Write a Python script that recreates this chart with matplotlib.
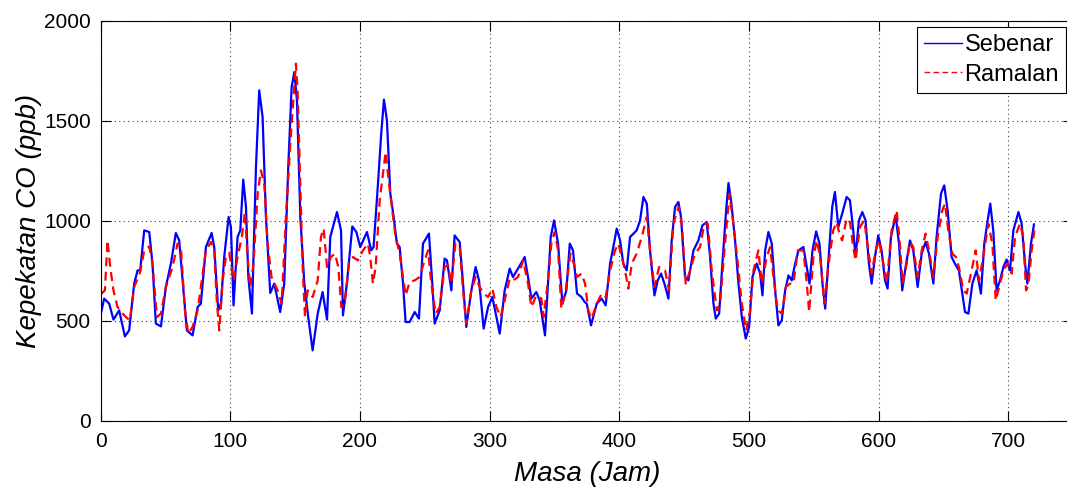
import matplotlib
matplotlib.use("Agg")
import matplotlib.pyplot as plt

plt.rcParams["font.family"] = ["Liberation Sans", "DejaVu Sans"]

# Sebenar (actual) readings: hour, CO ppb
sebenar_jam = [
    0.3, 2.8, 6.7, 10.0, 14.4, 18.8, 22.1, 26.0, 28.6, 30.6, 33.7, 37.6, 40.1, 42.7, 46.6,
    50.4, 54.3, 58.1, 60.7, 63.3, 66.6, 71.0, 74.9, 77.4, 81.3, 85.7, 87.7, 90.8, 92.9,
    95.4, 98.8, 100.6, 102.6, 105.7, 107.8, 110.1, 112.2, 114.0, 116.8, 119.9, 122.4,
    125.0, 127.6, 130.9, 134.0, 138.6, 141.7, 144.8, 147.4, 149.5, 151.5, 154.1, 157.2,
    160.2, 163.6, 167.5, 171.3, 174.7, 177.2, 182.4, 185.5, 187.0, 190.0, 194.2, 197.3,
    200.3, 205.5, 208.8, 210.6, 214.0, 216.5, 218.6, 220.9, 223.5, 226.1, 228.6, 230.7,
    233.3, 235.3, 238.4, 242.3, 245.6, 248.7, 253.3, 255.9, 257.7, 261.6, 265.4, 267.2,
    270.6, 273.1, 277.0, 279.6, 282.1, 286.0, 289.3, 291.9, 295.5, 298.9, 302.2, 305.3,
    307.9, 311.7, 315.6, 318.1, 322.0, 327.1, 329.7, 332.3, 336.1, 338.7, 341.8, 342.8,
    345.1, 347.2, 349.8, 352.9, 356.2, 359.3, 361.9, 364.4, 367.5, 370.9, 373.4, 375.0,
    378.3, 382.7, 386.5, 389.6, 393.0, 395.5, 398.1, 400.7, 403.2, 405.8, 408.4, 411.0,
    413.5, 416.1, 418.7, 421.3, 423.8, 427.2, 429.7, 432.3, 434.9, 438.0, 440.5, 443.1,
    445.7, 447.7, 450.8, 453.4, 457.3, 461.1, 464.2, 467.5, 470.1, 472.7, 474.5, 477.1,
    479.6, 482.5, 484.3, 486.3, 489.4, 492.0, 494.6, 497.6, 500.2, 502.8, 506.1, 508.7,
    510.5, 512.6, 515.1, 517.7, 520.3, 522.8, 525.4, 528.0, 530.6, 533.1, 535.7, 538.3,
    542.1, 544.7, 546.8, 549.1, 551.9, 554.5, 556.8, 558.9, 561.2, 564.3, 566.4, 569.0,
    572.0, 575.4, 578.0, 580.5, 582.3, 584.9, 587.5, 590.0, 592.6, 594.7, 597.3, 599.8,
    602.4, 605.0, 607.0, 609.6, 613.2, 615.8, 618.3, 620.9, 624.3, 626.8, 630.2, 633.3,
    636.3, 638.9, 642.3, 644.8, 648.2, 650.7, 653.3, 656.4, 658.9, 662.0, 664.6, 666.7,
    669.3, 672.4, 675.7, 679.0, 681.6, 684.2, 686.2, 688.5, 691.1, 693.7, 696.3, 698.8,
    701.4, 704.0, 707.9, 710.4, 713.0, 714.8, 717.6, 719.9,
]
sebenar_ppb = [
    537, 612, 587, 507, 553, 423, 453, 687, 753, 753, 953, 945, 787, 487, 473,
    670, 787, 940, 903, 703, 453, 428, 570, 587, 870, 940, 870, 553, 587,
    820, 1020, 970, 578, 920, 953, 1207, 1070, 720, 537, 1270, 1653,
    1520, 1020, 640, 687, 545, 687, 1270, 1670, 1745, 1603, 1020, 687,
    520, 353, 537, 645, 507, 920, 1045, 953, 528, 687, 973, 945,
    870, 945, 853, 870, 1187, 1437, 1607, 1503, 1137, 1020, 887, 870,
    687, 495, 495, 545, 512, 887, 937, 687, 487, 553, 812, 803,
    653, 928, 895, 687, 470, 653, 770, 703, 462, 570, 620, 520,
    437, 653, 762, 720, 762, 820, 720, 612, 645, 603, 470, 428,
    687, 920, 1003, 887, 587, 653, 887, 853, 637, 620, 595, 587,
    478, 587, 612, 578, 787, 870, 962, 903, 787, 753, 920, 937,
    953, 1003, 1120, 1087, 853, 628, 703, 737, 687, 612, 903, 1070,
    1095, 1020, 720, 703, 853, 903, 978, 995, 820, 587, 512, 537,
    787, 1053, 1190, 1103, 903, 687, 520, 412, 470, 720, 787, 737,
    628, 853, 945, 887, 653, 478, 503, 653, 728, 703, 787, 853,
    870, 770, 687, 853, 948, 887, 687, 562, 787, 1070, 1145, 970,
    1037, 1120, 1103, 953, 820, 1003, 1045, 1003, 787, 687, 820, 928,
    853, 703, 662, 920, 1028, 887, 653, 770, 903, 853, 670, 837,
    895, 837, 687, 920, 1137, 1178, 1053, 820, 787, 753, 637, 545,
    537, 687, 753, 637, 887, 1003, 1087, 953, 653, 703, 770, 807,
    753, 953, 1045, 987, 787, 687, 887, 983,
]

# Ramalan (forecast) readings: hour, CO ppb
ramalan_jam = [
    0.8, 3.4, 5.4, 7.5, 10.0, 13.1, 18.3, 22.6, 26.0, 30.6, 33.7, 37.6, 40.1, 43.5, 46.6,
    50.4, 55.6, 59.4, 62.0, 65.1, 67.7, 71.0, 74.9, 81.3, 85.2, 87.7, 89.8, 91.6, 94.2,
    96.7, 99.3, 102.6, 105.7, 109.0, 111.4, 113.4, 115.5, 118.0, 121.2, 123.7, 126.3,
    128.9, 131.9, 136.6, 139.7, 143.0, 146.9, 150.7, 152.0, 154.1, 155.9, 157.7, 159.7,
    163.6, 167.5, 170.0, 172.1, 174.7, 177.7, 180.8, 183.4, 185.7, 188.3, 191.6, 194.7,
    198.5, 202.4, 206.3, 208.0, 210.1, 212.2, 215.3, 219.9, 222.5, 225.0, 227.6, 230.7,
    233.3, 235.3, 238.4, 242.3, 246.1, 249.2, 252.6, 255.1, 258.5, 261.6, 265.4, 268.0,
    270.6, 273.7, 277.0, 279.6, 282.1, 286.0, 289.3, 292.4, 295.5, 298.9, 302.2, 305.3,
    308.6, 311.7, 315.6, 318.1, 322.0, 325.9, 329.7, 332.3, 336.1, 340.0, 341.8, 345.1,
    347.7, 350.3, 352.9, 355.4, 358.8, 362.4, 365.0, 367.5, 370.9, 373.7, 376.2, 378.8,
    382.7, 386.5, 389.6, 393.0, 396.8, 399.4, 402.0, 404.5, 407.1, 409.7, 413.5, 417.4,
    421.3, 423.8, 427.2, 430.8, 435.4, 438.5, 441.8, 445.7, 448.3, 451.3, 454.7, 458.5,
    462.4, 465.7, 468.3, 471.4, 475.3, 477.8, 481.2, 485.0, 488.1, 491.5, 494.6, 497.9,
    501.0, 503.6, 507.4, 510.0, 513.8, 516.4, 519.0, 522.3, 525.4, 528.5, 531.8, 534.4,
    537.8, 542.1, 544.7, 546.5, 549.8, 552.4, 555.0, 558.2, 561.2, 565.1, 567.7, 570.2,
    572.0, 575.4, 578.0, 580.5, 582.3, 585.7, 589.0, 592.1, 594.7, 597.8, 600.3, 602.9,
    606.3, 610.1, 614.0, 616.5, 618.6, 621.7, 624.3, 626.8, 630.2, 633.3, 636.3, 638.9,
    642.3, 645.6, 649.2, 651.3, 653.8, 656.9, 659.7, 662.0, 665.4, 668.0, 671.3, 674.9,
    677.5, 680.8, 684.7, 687.8, 690.4, 692.4, 696.3, 699.6, 702.7, 705.3, 709.1, 711.7,
    713.8, 715.6, 718.1, 720.2,
]
ramalan_ppb = [
    637, 653, 903, 770, 653, 570, 528, 503, 670, 745, 853, 873, 787, 520, 537,
    670, 770, 887, 870, 553, 437, 470, 553, 853, 895, 853, 587, 453, 703,
    820, 840, 703, 820, 920, 1045, 820, 670, 787, 1137, 1253, 1187,
    887, 720, 653, 587, 1020, 1437, 1787, 1653, 1187, 770, 520, 653,
    620, 703, 920, 962, 770, 820, 837, 770, 570, 587, 787, 820,
    803, 853, 887, 820, 687, 770, 1103, 1345, 1187, 1053, 920, 837,
    720, 628, 695, 703, 720, 787, 853, 687, 537, 570, 770, 778,
    687, 887, 870, 653, 487, 653, 720, 670, 637, 620, 662, 570,
    520, 603, 712, 703, 720, 803, 687, 570, 628, 612, 520, 703,
    887, 945, 853, 562, 653, 837, 787, 720, 737, 687, 553, 512,
    587, 637, 620, 753, 853, 887, 820, 753, 662, 787, 837, 920,
    1020, 853, 670, 770, 753, 653, 987, 1070, 987, 687, 753, 837,
    870, 987, 987, 753, 553, 587, 853, 1137, 987, 787, 587, 453,
    553, 753, 853, 687, 820, 870, 720, 553, 537, 670, 687, 687,
    853, 853, 687, 545, 820, 903, 820, 587, 770, 953, 995, 928,
    903, 1012, 995, 870, 803, 970, 1003, 853, 737, 853, 903, 820,
    687, 953, 1053, 887, 687, 787, 895, 870, 720, 853, 937, 853,
    720, 920, 1053, 1087, 953, 837, 820, 770, 653, 637, 737, 853,
    703, 820, 987, 887, 603, 653, 753, 787, 737, 920, 987, 920,
    653, 678, 853, 953,
]

x_ticks = [0, 100, 200, 300, 400, 500, 600, 700]
y_ticks = [0, 500, 1000, 1500, 2000]

fig = plt.figure(figsize=(10.67, 4.93), dpi=100)
ax = fig.add_axes([100.5 / 1067, 72 / 493, 972.5 / 1067, 400 / 493])

ax.plot(sebenar_jam, sebenar_ppb, "-", color="#0000ff", linewidth=1.6, label="Sebenar")
ax.plot(ramalan_jam, ramalan_ppb, "--", color="#ff0000", linewidth=1.6,
        dashes=(4, 2.5), label="Ramalan")

ax.set_xlim(0, 750)
ax.set_ylim(0, 2000)
ax.set_xticks(x_ticks)
ax.set_yticks(y_ticks)
ax.tick_params(direction="in", length=7, width=0.8, top=True, right=True,
               labelsize=15, colors="black")
ax.tick_params(axis="y", pad=7)
ax.tick_params(axis="x", pad=8)
ax.grid(True, linestyle=(0, (1, 3)), color="#444444", linewidth=0.8)
for s in ax.spines.values():
    s.set_linewidth(0.8)

ax.set_xlabel("Masa (Jam)", fontsize=20, style="italic")
ax.set_ylabel("Kepekatan CO (ppb)", fontsize=20, style="italic")
ax.xaxis.set_label_coords(0.5, -0.1)
ax.yaxis.set_label_coords(-0.06, 0.5)

leg = ax.legend(loc="upper right", bbox_to_anchor=(1066 / 1067, 1 - 27 / 493),
                bbox_transform=fig.transFigure, borderaxespad=0, fontsize=17,
                handlelength=1.6, handletextpad=0.1, labelspacing=0.32,
                borderpad=0.3, fancybox=False, framealpha=1, edgecolor="black")
leg.get_frame().set_linewidth(0.8)
for h in leg.get_lines():
    h.set_linewidth(1.0)

fig.savefig("out.png", dpi=100)
